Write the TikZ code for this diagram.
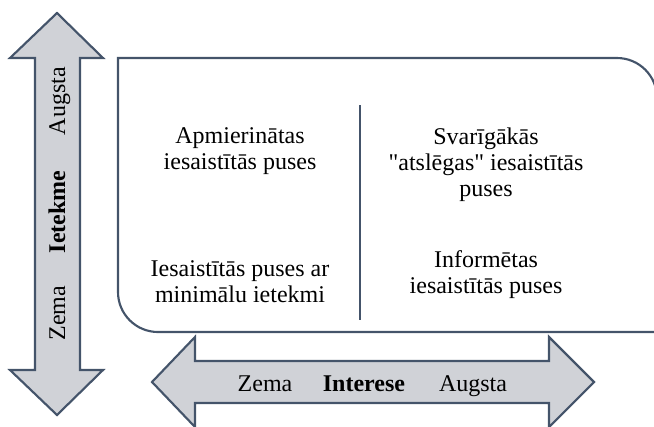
\documentclass[tikz,border=0pt]{standalone}
\usepackage{fontspec}
\setmainfont{Liberation Serif}[Ligatures=TeXOff]
\usepackage{tikz}
\usetikzlibrary{positioning}
\definecolor{slate}{RGB}{68,84,106}
\definecolor{arrowgray}{RGB}{208,210,215}
\tikzstyle{axis}=[draw=slate, line width=1.6pt, fill=arrowgray, line join=miter]
\tikzstyle{quad}=[align=center, font=\fontsize{18}{19.5}\selectfont, inner sep=0pt]
\tikzstyle{lbl}=[font=\fontsize{18}{19.5}\selectfont, inner sep=0pt, anchor=base]
\begin{document}
\begin{tikzpicture}[x=0.75pt, y=-0.75pt]
    \useasboundingbox (0,0) rectangle (654,426);

    % vertical axis (Ietekme)
    \path [axis] (57,13) -- (103,58) -- (80,58) -- (80,370) -- (103,370) -- (57,415)
                 -- (10,370) -- (35,370) -- (35,58) -- (10,58) -- cycle;
    \node [lbl, rotate=90]             (IA) at (65,101) {Augsta};
    \node [lbl, rotate=90, font=\fontsize{18}{19.5}\selectfont\bfseries] (I) at (65,212) {Ietekme};
    \node [lbl, rotate=90]             (IZ) at (65,313) {Zema};

    % horizontal axis (Interese)
    \path [axis] (152,382) -- (195,337) -- (195,361) -- (549,361) -- (549,337) -- (594,382)
                 -- (549,427) -- (549,403) -- (195,403) -- (195,427) -- cycle;
    \node [lbl]                        (HZ) at (265,391) {Zema};
    \node [lbl, font=\fontsize{18}{19.5}\selectfont\bfseries] (H) at (364,391) {Interese};
    \node [lbl]                        (HA) at (473,391) {Augsta};

    % matrix box
    \draw [draw=slate, line width=1.6pt] (118,58) -- (617,58) arc (270:360:40) -- (657,332)
          -- (158,332) arc (90:180:40) -- cycle;
    \coordinate (top) at (360,105);
    \coordinate (bot) at (360,320);
    \draw [slate, line width=0.8pt] (top) -- (bot);

    \node [quad] (TL) at (240,151) {Apmierinātas\\iesaistītās puses};
    \node [quad] (TR) at (486,165) {Svarīgākās\\"atslēgas" iesaistītās\\puses};
    \node [quad] (BL) at (240,282) {Iesaistītās puses ar\\minimālu ietekmi};
    \node [quad] (BR) at (486,275) {Informētas\\iesaistītās puses};
\end{tikzpicture}
\end{document}
